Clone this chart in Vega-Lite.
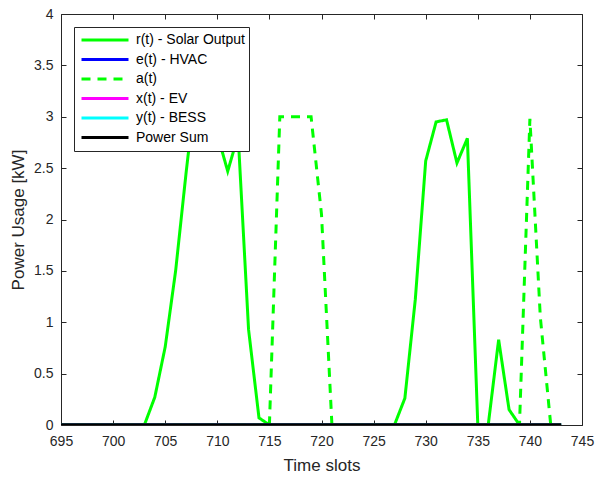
{
  "$schema": "https://vega.github.io/schema/vega-lite/v6.json",
  "width": 521,
  "height": 411,
  "autosize": {"type": "none"},
  "padding": {"left": 61, "top": 14, "right": 14, "bottom": 53},
  "background": "white",
  "config": {
    "view": {"stroke": null},
    "font": "Liberation Sans",
    "axis": {
      "grid": false,
      "domainColor": "#262626",
      "domainWidth": 1,
      "tickColor": "#262626",
      "tickSize": -5,
      "tickWidth": 1,
      "labelColor": "#262626",
      "labelFont": "Liberation Sans",
      "labelFontSize": 14,
      "titleColor": "#262626",
      "titleFont": "Liberation Sans",
      "titleFontSize": 17,
      "titleFontWeight": "normal"
    }
  },
  "data": {
    "values": [
      {"t": 695, "r": 0, "e": 0, "a": 0, "x": 0, "y": 0, "p": 0},
      {"t": 696, "r": 0, "e": 0, "a": 0, "x": 0, "y": 0, "p": 0},
      {"t": 697, "r": 0, "e": 0, "a": 0, "x": 0, "y": 0, "p": 0},
      {"t": 698, "r": 0, "e": 0, "a": 0, "x": 0, "y": 0, "p": 0},
      {"t": 699, "r": 0, "e": 0, "a": 0, "x": 0, "y": 0, "p": 0},
      {"t": 700, "r": 0, "e": 0, "a": 0, "x": 0, "y": 0, "p": 0},
      {"t": 701, "r": 0, "e": 0, "a": 0, "x": 0, "y": 0, "p": 0},
      {"t": 702, "r": 0, "e": 0, "a": 0, "x": 0, "y": 0, "p": 0},
      {"t": 703, "r": 0, "e": 0, "a": 0, "x": 0, "y": 0, "p": 0},
      {"t": 704, "r": 0.27, "e": 0, "a": 0, "x": 0, "y": 0, "p": 0},
      {"t": 705, "r": 0.76, "e": 0, "a": 0, "x": 0, "y": 0, "p": 0},
      {"t": 706, "r": 1.5, "e": 0, "a": 0, "x": 0, "y": 0, "p": 0},
      {"t": 707, "r": 2.45, "e": 0, "a": 0, "x": 0, "y": 0, "p": 0},
      {"t": 708, "r": 3.33, "e": 0, "a": 0, "x": 0, "y": 0, "p": 0},
      {"t": 709, "r": 3.4, "e": 0, "a": 0, "x": 0, "y": 0, "p": 0},
      {"t": 710, "r": 2.83, "e": 0, "a": 0, "x": 0, "y": 0, "p": 0},
      {"t": 711, "r": 2.47, "e": 0, "a": 0, "x": 0, "y": 0, "p": 0},
      {"t": 712, "r": 2.82, "e": 0, "a": 0, "x": 0, "y": 0, "p": 0},
      {"t": 713, "r": 0.93, "e": 0, "a": 0, "x": 0, "y": 0, "p": 0},
      {"t": 714, "r": 0.07, "e": 0, "a": 0, "x": 0, "y": 0, "p": 0},
      {"t": 715, "r": 0, "e": 0, "a": 0, "x": 0, "y": 0, "p": 0},
      {"t": 716, "r": 0, "e": 0, "a": 3, "x": 0, "y": 0, "p": 0},
      {"t": 717, "r": 0, "e": 0, "a": 3, "x": 0, "y": 0, "p": 0},
      {"t": 718, "r": 0, "e": 0, "a": 3, "x": 0, "y": 0, "p": 0},
      {"t": 719, "r": 0, "e": 0, "a": 3, "x": 0, "y": 0, "p": 0},
      {"t": 720, "r": 0, "e": 0, "a": 2.05, "x": 0, "y": 0, "p": 0},
      {"t": 721, "r": 0, "e": 0, "a": 0, "x": 0, "y": 0, "p": 0},
      {"t": 722, "r": 0, "e": 0, "a": 0, "x": 0, "y": 0, "p": 0},
      {"t": 723, "r": 0, "e": 0, "a": 0, "x": 0, "y": 0, "p": 0},
      {"t": 724, "r": 0, "e": 0, "a": 0, "x": 0, "y": 0, "p": 0},
      {"t": 725, "r": 0, "e": 0, "a": 0, "x": 0, "y": 0, "p": 0},
      {"t": 726, "r": 0, "e": 0, "a": 0, "x": 0, "y": 0, "p": 0},
      {"t": 727, "r": 0, "e": 0, "a": 0, "x": 0, "y": 0, "p": 0},
      {"t": 728, "r": 0.26, "e": 0, "a": 0, "x": 0, "y": 0, "p": 0},
      {"t": 729, "r": 1.22, "e": 0, "a": 0, "x": 0, "y": 0, "p": 0},
      {"t": 730, "r": 2.57, "e": 0, "a": 0, "x": 0, "y": 0, "p": 0},
      {"t": 731, "r": 2.95, "e": 0, "a": 0, "x": 0, "y": 0, "p": 0},
      {"t": 732, "r": 2.97, "e": 0, "a": 0, "x": 0, "y": 0, "p": 0},
      {"t": 733, "r": 2.55, "e": 0, "a": 0, "x": 0, "y": 0, "p": 0},
      {"t": 734, "r": 2.79, "e": 0, "a": 0, "x": 0, "y": 0, "p": 0},
      {"t": 735, "r": 0, "e": 0, "a": 0, "x": 0, "y": 0, "p": 0},
      {"t": 736, "r": 0, "e": 0, "a": 0, "x": 0, "y": 0, "p": 0},
      {"t": 737, "r": 0.83, "e": 0, "a": 0, "x": 0, "y": 0, "p": 0},
      {"t": 738, "r": 0.15, "e": 0, "a": 0, "x": 0, "y": 0, "p": 0},
      {"t": 739, "r": 0, "e": 0, "a": 0, "x": 0, "y": 0, "p": 0},
      {"t": 740, "r": 0, "e": 0, "a": 2.98, "x": 0, "y": 0, "p": 0},
      {"t": 741, "r": 0, "e": 0, "a": 1.05, "x": 0, "y": 0, "p": 0},
      {"t": 742, "r": 0, "e": 0, "a": 0, "x": 0, "y": 0, "p": 0},
      {"t": 743, "r": 0, "e": 0, "a": 0, "x": 0, "y": 0, "p": 0}
    ]
  },
  "transform": [{"fold": ["r", "e", "a", "x", "y", "p"], "as": ["series", "value"]}],
  "layer": [
    {
      "transform": [{"filter": "datum.series !== 'p'"}],
      "mark": {"type": "line", "strokeWidth": 3, "clip": true},
      "encoding": {
        "x": {"field": "t", "type": "quantitative", "scale": {"domain": [695, 745], "nice": false, "zero": false},
              "axis": {"orient": "bottom", "values": [695, 700, 705, 710, 715, 720, 725, 730, 735, 740, 745], "labelPadding": 14, "title": "Time slots", "titlePadding": 9, "labelFlush": false}},
        "y": {"field": "value", "type": "quantitative", "scale": {"domain": [0, 4], "nice": false},
              "axis": {"orient": "left", "values": [0, 0.5, 1, 1.5, 2, 2.5, 3, 3.5, 4], "format": "~g", "labelPadding": 13, "title": "Power Usage [kW]", "titlePadding": 6, "labelFlush": false}},
        "color": {"field": "series", "type": "nominal",
                  "scale": {"domain": ["r", "e", "a", "x", "y", "p"], "range": ["#00ff00", "#0000ff", "#00ff00", "#ff00ff", "#00ffff", "#000000"]},
                  "legend": {"title": null, "orient": "none", "legendX": 13, "legendY": 13,
                             "labelExpr": "{'r': 'r(t) - Solar Output', 'e': 'e(t) - HVAC', 'a': 'a(t)', 'x': 'x(t) - EV', 'y': 'y(t) - BESS', 'p': 'Power Sum'}[datum.value]",
                             "symbolType": "stroke", "symbolSize": 2209, "symbolStrokeWidth": 3, "symbolOffset": 2,
                             "labelFont": "Liberation Sans", "labelFontSize": 14, "labelColor": "#000000", "labelOffset": 6,
                             "clipHeight": 18, "rowPadding": 1.5, "padding": 4,
                             "fillColor": "white", "strokeColor": "#262626"}},
        "strokeDash": {"field": "series", "type": "nominal",
                       "scale": {"domain": ["r", "e", "a", "x", "y", "p"], "range": [[1, 0], [1, 0], [9, 7], [1, 0], [1, 0], [1, 0]]},
                       "legend": {"title": null}}
      }
    },
    {
      "transform": [{"filter": "datum.series === 'p'"}],
      "mark": {"type": "line", "strokeWidth": 3.5, "clip": true},
      "encoding": {
        "x": {"field": "t", "type": "quantitative", "axis": null},
        "y": {"field": "value", "type": "quantitative", "axis": null},
        "color": {"field": "series", "type": "nominal"},
        "strokeDash": {"field": "series", "type": "nominal"}
      }
    },
    {
      "transform": [{"filter": "datum.series === 'p'"}],
      "mark": {"type": "line", "opacity": 0},
      "encoding": {
        "x": {"field": "t", "type": "quantitative", "axis": {"orient": "top", "labels": false, "title": null, "values": [695, 700, 705, 710, 715, 720, 725, 730, 735, 740, 745]}},
        "y": {"field": "value", "type": "quantitative", "axis": {"orient": "right", "labels": false, "title": null, "values": [0, 0.5, 1, 1.5, 2, 2.5, 3, 3.5, 4]}}
      }
    }
  ]
}
